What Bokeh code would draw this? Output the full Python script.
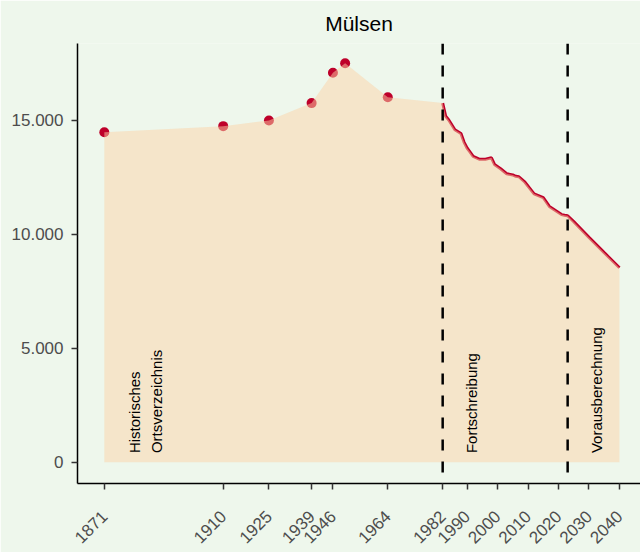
import math
from bokeh.plotting import figure
from bokeh.models import FixedTicker, Span, Range1d
from bokeh.core.properties import value
from bokeh.embed import file_html
from bokeh.resources import INLINE

# ---- data ----
hist_years = [1871, 1910, 1925, 1939, 1946, 1950, 1964]
hist_pop = [14470, 14740, 14990, 15750, 17080, 17500, 16010]

fort_years = [1982, 1983, 1984, 1986, 1988, 1989, 1990, 1991, 1992, 1994, 1996,
              1997, 1998, 1999, 2001, 2003, 2005, 2006, 2007, 2009, 2012, 2015,
              2017, 2019, 2021, 2022]
fort_pop = [15750, 15170, 15010, 14580, 14420, 14040, 13780, 13600, 13410, 13290,
            13290, 13320, 13350, 13060, 12870, 12650, 12600, 12540, 12520, 12280,
            11770, 11600, 11220, 11040, 10860, 10830]

vor_years = [2023, 2025, 2030, 2035, 2040]
vor_pop = [10810, 10550, 9860, 9190, 8530]

phase_breaks = [1982, 2023]
phase_labels = ["Historisches\nOrtsverzeichnis", "Fortschreibung", "Vorausberechnung"]
phase_label_x = [1884.5, 1991.5, 2032.5]
phase_label_y = [400, 400, 400]

x_ticks = [1871, 1910, 1925, 1939, 1946, 1964, 1982, 1990, 2000, 2010, 2020, 2030, 2040]
y_ticks = [0, 5000, 10000, 15000]
y_tick_labels = ["0", "5.000", "10.000", "15.000"]

title_text = "Mülsen"

# ---- styles ----
BG = "#EEF7EC"
RED = "#BE002A"
FILL = "#FBD3A8"
FONT = "Liberation Sans"

p = figure(width=640, height=552, output_backend="svg", toolbar_location=None,
           x_range=Range1d(1862.2, 2046.9), y_range=Range1d(-934, 18364),
           min_border_left=77, min_border_right=0, min_border_top=43,
           min_border_bottom=69,
           background_fill_color=BG, border_fill_color=BG)

p.title.text = title_text
p.title.align = "center"
p.title.offset = 7
p.title.standoff = 18
p.title.text_font = FONT
p.title.text_font_size = "21px"
p.title.text_font_style = "normal"
p.title.text_color = "black"

p.grid.visible = False
p.outline_line_color = None

for ax in (p.xaxis[0], p.yaxis[0]):
    ax.axis_line_color = "black"
    ax.axis_line_width = 1.5
    ax.major_tick_line_color = "#333333"
    ax.major_tick_line_width = 1.5
    ax.major_tick_out = 6
    ax.major_tick_in = 0
    ax.minor_tick_line_color = None
    ax.major_label_text_font = FONT
    ax.major_label_text_font_size = "17px"
    ax.major_label_text_color = "#4D4D4D"

p.xaxis.ticker = FixedTicker(ticks=x_ticks)
p.xaxis.major_label_orientation = math.pi / 4
p.xaxis.major_label_standoff = 24

p.yaxis.ticker = FixedTicker(ticks=y_ticks)
p.yaxis.major_label_overrides = {t: l for t, l in zip(y_ticks, y_tick_labels)}
p.yaxis.major_label_standoff = 8

# points and line (under the translucent area)
p.scatter(hist_years, hist_pop, size=10, color=RED, line_color=None)
line_years = fort_years + vor_years
line_pop = fort_pop + vor_pop
p.line(line_years, line_pop, line_color=RED, line_width=3)

area_years = hist_years + fort_years + vor_years
area_pop = hist_pop + fort_pop + vor_pop
p.varea(x=area_years, y1=[0] * len(area_years), y2=area_pop,
        fill_color=FILL, fill_alpha=0.5)

for b in phase_breaks:
    p.add_layout(Span(location=b, dimension="height", line_color="black",
                      line_width=2.5, line_dash="11 11"))

p.text(x=phase_label_x, y=phase_label_y, text=phase_labels, angle=math.pi / 2,
       text_align="left", text_baseline="middle", text_font=value(FONT),
       text_font_size="15px", text_color="black", text_line_height=1.3)

open("out.html", "w").write(file_html(p, INLINE))
